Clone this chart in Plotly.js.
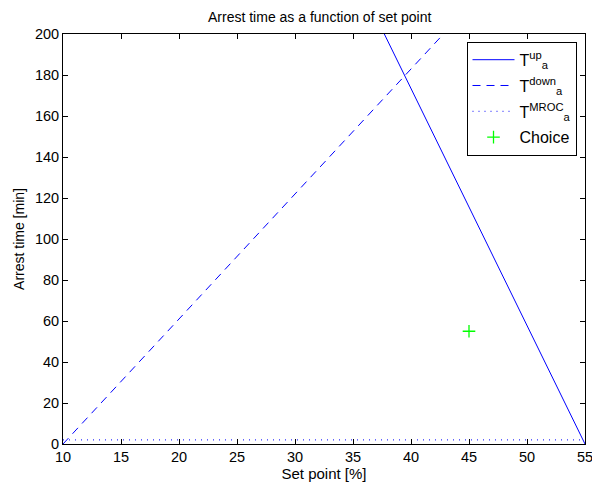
<!DOCTYPE html>
<html><head><meta charset="utf-8">
<script src="https://cdn.plot.ly/plotly-3.0.1.min.js"></script>
<style>body{margin:0;padding:0;background:#fff}#chart{width:592px;height:485px}</style>
</head><body><div id="chart"></div>
<script>
const upX = [37.7, 55];
const upY = [200, 0];
const downX = [10, 42.8];
const downY = [0, 200];
const mrocX = [10, 55];
const mrocY = [2, 2];
const choiceX = [45];
const choiceY = [55];
const xTicks = [10, 15, 20, 25, 30, 35, 40, 45, 50, 55];
const yTicks = [0, 20, 40, 60, 80, 100, 120, 140, 160, 180, 200];

const fam = 'Liberation Sans, Arial, sans-serif';
const tickFont = {family: fam, size: 14.5, color: '#000'};
const traces = [
  {x: upX, y: upY, mode: 'lines', name: 'T<sup>up</sup><sub>a</sub>', legendgroup: 'g1', line: {color: '#0000ff', width: 1, dash: 'solid'}},
  {x: downX, y: downY, mode: 'lines', name: 'T<sup>down</sup><sub>a</sub>', legendgroup: 'g2', line: {color: '#0000ff', width: 1, dash: '8px,6px'}},
  {x: mrocX, y: mrocY, mode: 'lines', name: 'T<sup>MROC</sup><sub>a</sub>', legendgroup: 'g3', line: {color: '#0000ff', width: 1, dash: '1px,5px'}},
  {x: choiceX, y: choiceY, mode: 'markers', name: 'Choice', legendgroup: 'g4', marker: {symbol: 'cross-thin', size: 9, color: '#00ff00', line: {color: '#00ff00', width: 1.3}}}
];
const axisCommon = {
  showline: true, linecolor: '#000', linewidth: 1, mirror: 'allticks',
  ticks: 'inside', ticklen: 5, tickcolor: '#000', tickwidth: 1,
  showgrid: false, zeroline: false, tickfont: tickFont, ticklabeloverflow: 'allow'
};
const layout = {
  width: 592, height: 485,
  margin: {l: 63, r: 7, t: 34, b: 41},
  paper_bgcolor: '#fff', plot_bgcolor: '#fff',
  font: {family: fam, size: 14, color: '#000'},
  title: {text: 'Arrest time as a function of set point', font: {family: fam, size: 14, color: '#000'}, x: 0.54, xanchor: 'center', y: 0.965, yanchor: 'middle'},
  xaxis: Object.assign({}, axisCommon, {range: [10, 55], tickvals: xTicks, title: {text: 'Set point [%]', font: {family: fam, size: 15, color: '#000'}, standoff: 4}}),
  yaxis: Object.assign({}, axisCommon, {range: [0, 200], tickvals: yTicks, title: {text: 'Arrest time [min]', font: {family: fam, size: 14, color: '#000'}, standoff: 6}}),
  showlegend: true,
  legend: {x: 0.773, y: 0.981, xanchor: 'left', yanchor: 'top', bordercolor: '#000', borderwidth: 1, bgcolor: '#fff', itemwidth: 42, tracegroupgap: 2, font: {family: fam, size: 16, color: '#000'}}
};
Plotly.newPlot('chart', traces, layout, {displayModeBar: false, staticPlot: true});
</script></body></html>
